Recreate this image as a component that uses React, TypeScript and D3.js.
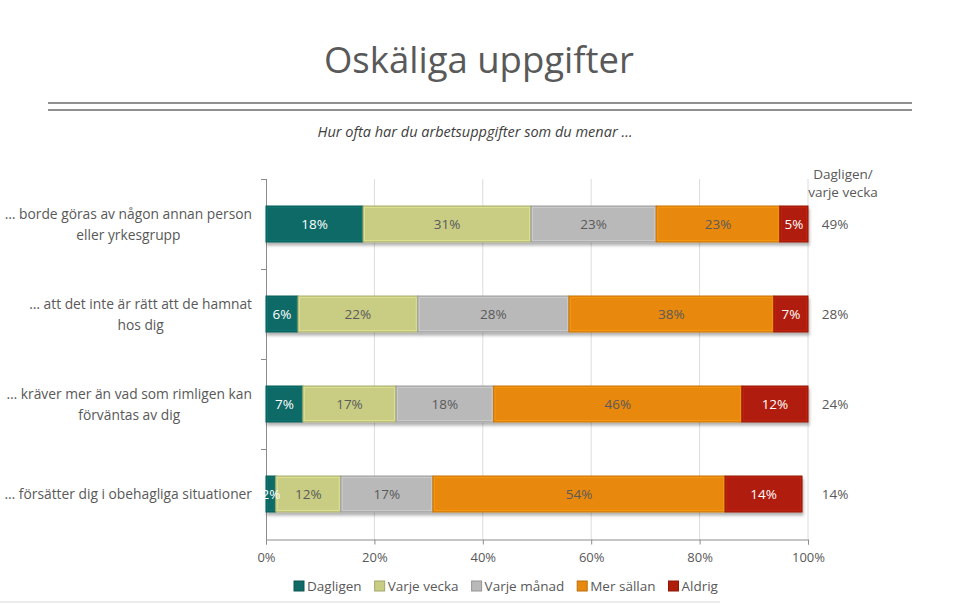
import React, { useEffect, useRef } from 'react';
import * as d3 from 'd3';

const categories = [
  ['… borde göras av någon annan person', 'eller yrkesgrupp'],
  ['… att det inte är rätt att de hamnat', 'hos dig'],
  ['… kräver mer än vad som rimligen kan', 'förväntas av dig'],
  ['… försätter dig i obehagliga situationer'],
];
const seriesNames = ['Dagligen', 'Varje vecka', 'Varje månad', 'Mer sällan', 'Aldrig'];
const seriesColors = ['#0f6b66', '#c9cd84', '#b9b9b9', '#e8890f', '#b01e0a'];
const labelColors = ['#ffffff', '#5a5a5a', '#5a5a5a', '#5a5a5a', '#ffffff'];

// values in percent, one array per series (rows in category order)
const dagligen = [17.9, 5.9, 6.8, 1.8];
const varjeVecka = [31.0, 22.1, 17.2, 12.0];
const varjeManad = [23.1, 27.9, 18.0, 17.0];
const merSallan = [22.8, 37.8, 45.8, 53.9];
const aldrig = [5.2, 6.3, 12.2, 14.2];
const labels = [
  ['18%', '6%', '7%', '2%'],
  ['31%', '22%', '17%', '12%'],
  ['23%', '28%', '18%', '17%'],
  ['23%', '38%', '46%', '54%'],
  ['5%', '7%', '12%', '14%'],
];
const weeklyTotal = ['49%', '28%', '24%', '14%'];
const xTicks = [0, 20, 40, 60, 80, 100];

const FONT = "'Open Sans', 'Noto Sans', sans-serif";

const App = () => {
  const svgRef = useRef<SVGSVGElement>(null);

  useEffect(() => {
    const svg = d3.select(svgRef.current);
    svg.selectAll('*').remove();

    const values = [dagligen, varjeVecka, varjeManad, merSallan, aldrig];
    const rows = categories.map((c, i) => ({ i, vals: values.map(v => v[i]) }));

    const x = d3.scaleLinear().domain([0, 100]).range([266, 808]);
    const y = d3.scaleBand<number>().domain(d3.range(categories.length)).range([179, 539]).paddingInner(0.6).paddingOuter(0.3);
    const bandAll = d3.scaleBand<number>().domain(d3.range(categories.length)).range([179, 539]);

    // title
    svg.append('text').attr('x', 479).attr('y', 73).attr('text-anchor', 'middle')
      .attr('font-family', FONT).attr('font-size', 36.5).attr('fill', '#595959').text('Oskäliga uppgifter');
    [103, 110].forEach(yy => svg.append('line').attr('x1', 48).attr('x2', 912).attr('y1', yy).attr('y2', yy)
      .attr('stroke', '#909090').attr('stroke-width', 2));
    svg.append('text').attr('x', 475).attr('y', 137).attr('text-anchor', 'middle')
      .attr('font-family', FONT).attr('font-size', 14.5).attr('font-style', 'italic').attr('fill', '#404040')
      .text('Hur ofta har du arbetsuppgifter som du menar …');

    // gridlines
    svg.append('g').selectAll('line').data(xTicks.slice(1)).join('line')
      .attr('x1', d => x(d)).attr('x2', d => x(d)).attr('y1', 179).attr('y2', 539)
      .attr('stroke', '#dcdcdc').attr('stroke-width', 1);

    // axes
    const xAxis = svg.append('g').attr('transform', 'translate(0,539.5)')
      .call(d3.axisBottom(x).tickValues(xTicks).tickSize(5).tickFormat(d => `${d}%`));
    xAxis.select('.domain').attr('stroke', '#8c8c8c');
    xAxis.selectAll('.tick line').attr('stroke', '#8c8c8c');
    xAxis.selectAll('text').attr('font-family', FONT).attr('font-size', 13).attr('fill', '#595959').attr('dy', '1.1em');

    const yg = svg.append('g');
    yg.append('line').attr('x1', 266.5).attr('x2', 266.5).attr('y1', 179).attr('y2', 540).attr('stroke', '#8c8c8c');
    yg.selectAll('line.t').data(d3.range(categories.length)).join('line').attr('class', 't')
      .attr('x1', 261).attr('x2', 266).attr('y1', d => bandAll(d)! + 0.5).attr('y2', d => bandAll(d)! + 0.5)
      .attr('stroke', '#8c8c8c');

    // category labels: block right-aligned at 252, lines centred in block
    rows.forEach(r => {
      const lines = categories[r.i];
      const cy = y(r.i)! + y.bandwidth() / 2;
      const t = svg.append('text').attr('text-anchor', 'middle').attr('font-family', FONT)
        .attr('font-size', 13.8).attr('fill', '#595959');
      const spans = lines.map((ln, k) => {
        const dy = (k - (lines.length - 1) / 2) * 21;
        return t.append('tspan').attr('y', cy + dy + 5).text(ln);
      });
      const w = d3.max(spans, s => (s.node() as SVGTSpanElement).getComputedTextLength())!;
      spans.forEach(s => s.attr('x', 252 - w / 2));
    });

    // shadow filter
    const defs = svg.append('defs');
    const f = defs.append('filter').attr('id', 'sh').attr('x', '-5%').attr('y', '-20%').attr('width', '110%').attr('height', '150%');
    f.append('feDropShadow').attr('dx', 1).attr('dy', 3).attr('stdDeviation', 1.5).attr('flood-color', '#000').attr('flood-opacity', 0.3);

    // bars
    rows.forEach(r => {
      let acc = 0;
      const g = svg.append('g').attr('filter', 'url(#sh)');
      const by = y(r.i)!;
      const bh = y.bandwidth();
      r.vals.forEach((v, s) => {
        const x0 = x(acc), x1 = x(acc + v);
        acc += v;
        g.append('rect').attr('x', x0).attr('y', by).attr('width', x1 - x0).attr('height', bh)
          .attr('fill', seriesColors[s])
          .attr('stroke', d3.color(seriesColors[s])!.darker(0.4).toString()).attr('stroke-width', 1);
        g.append('rect').attr('x', x0 + 1.5).attr('y', by + 1.5).attr('width', Math.max(0, x1 - x0 - 3)).attr('height', bh - 3)
          .attr('fill', 'none').attr('stroke', d3.color(seriesColors[s])!.brighter(0.4).toString()).attr('stroke-width', 1).attr('opacity', 0.6);
        svg.append('text').attr('x', (x0 + x1) / 2).attr('y', by + bh / 2 + 5).attr('text-anchor', 'middle')
          .attr('font-family', FONT).attr('font-size', 13.5).attr('fill', labelColors[s]).text(labels[s][r.i]);
      });
      svg.append('text').attr('x', 835).attr('y', by + bh / 2 + 5).attr('text-anchor', 'middle')
        .attr('font-family', FONT).attr('font-size', 13.5).attr('fill', '#595959').text(weeklyTotal[r.i]);
    });

    // column header
    const hdr = svg.append('text').attr('text-anchor', 'middle').attr('font-family', FONT).attr('font-size', 13.5).attr('fill', '#595959');
    hdr.append('tspan').attr('x', 843).attr('y', 179).text('Dagligen/');
    hdr.append('tspan').attr('x', 843).attr('y', 197).text('varje vecka');

    // legend
    const leg = svg.append('g');
    let lx = 294;
    seriesNames.forEach((n, s) => {
      leg.append('rect').attr('x', lx).attr('y', 581).attr('width', 10).attr('height', 10).attr('fill', seriesColors[s])
        .attr('stroke', d3.color(seriesColors[s])!.darker(0.6).toString());
      const t = leg.append('text').attr('x', lx + 13).attr('y', 591).attr('font-family', FONT).attr('font-size', 13.5)
        .attr('fill', '#595959').text(n);
      lx += 13 + (t.node() as SVGTextElement).getComputedTextLength() + 13;
    });

    svg.append('line').attr('x1', 0).attr('x2', 720).attr('y1', 602).attr('y2', 602).attr('stroke', '#ececec').attr('stroke-width', 2);
  }, []);

  return (
    <svg ref={svgRef} width={960} height={604} style={{ position: 'absolute', left: 0, top: 0, background: '#fff' }} />
  );
};

export default App;
